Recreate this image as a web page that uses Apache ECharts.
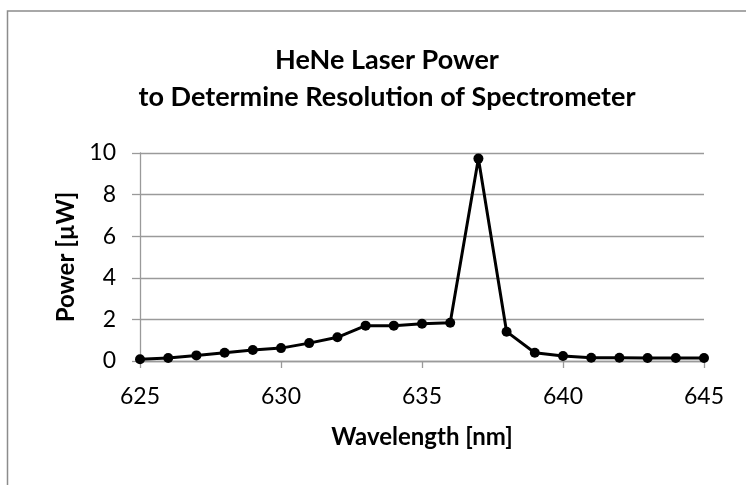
<!DOCTYPE html>
<html lang="en">

<head>
  <meta charset="UTF-8">
  <title>HeNe Laser Power</title>
  <script src="https://cdn.jsdelivr.net/npm/echarts@6/dist/echarts.min.js"></script>
  <style>
    html, body { margin: 0; padding: 0; background: #fff; }
  </style>
</head>

<body>
  <div id="main" style="width: 746px;height:485px;"></div>
  <script>
    // measured points, one per nm
    const wavelength = [625, 626, 627, 628, 629, 630, 631, 632, 633, 634, 635,
      636, 637, 638, 639, 640, 641, 642, 643, 644, 645];
    const power = [0.08, 0.14, 0.27, 0.40, 0.53, 0.62, 0.86, 1.14, 1.70, 1.70, 1.79,
      1.84, 9.73, 1.41, 0.40, 0.24, 0.16, 0.16, 0.14, 0.14, 0.14];

    const titleText = 'HeNe Laser Power\nto Determine Resolution of Spectrometer';
    const xName = 'Wavelength [nm]';
    const yName = 'Power [µW]';

    const font = 'Lato, "Open Sans", sans-serif';
    const gray = '#9a9a9a';

    var myChart = echarts.init(document.getElementById('main'));

    const option = {
      animation: false,
      // outer chart frame (continues past the right/bottom edge)
      graphic: [{
        type: 'rect',
        shape: { x: 7.5, y: 11, width: 800, height: 600 },
        style: { fill: 'none', stroke: '#8c8c8c', lineWidth: 1.5 },
        silent: true
      }],
      title: {
        text: titleText,
        left: 382,
        top: 37,
        textAlign: 'center',
        textStyle: {
          fontFamily: font,
          fontWeight: 'bold',
          fontSize: 27,
          lineHeight: 37,
          color: '#000'
        }
      },
      grid: { left: 140, right: 42, top: 153, bottom: 124 },
      xAxis: {
        type: 'value',
        min: 625,
        max: 645,
        interval: 5,
        name: xName,
        nameLocation: 'middle',
        nameGap: 64,
        nameTextStyle: { fontFamily: font, fontWeight: 'bold', fontSize: 24, color: '#000' },
        axisLine: { show: true, lineStyle: { color: gray, width: 1.3 } },
        axisTick: { show: true, length: 7, lineStyle: { color: gray, width: 1.3 } },
        axisLabel: { fontFamily: font, fontSize: 23, color: '#000', margin: 24 },
        splitLine: { show: false }
      },
      yAxis: {
        type: 'value',
        min: 0,
        max: 10,
        interval: 2,
        name: yName,
        nameLocation: 'middle',
        nameGap: 57,
        nameTextStyle: { fontFamily: font, fontWeight: 'bold', fontSize: 24, color: '#000' },
        axisLine: { show: true, lineStyle: { color: gray, width: 1.3 } },
        axisTick: { show: true, length: 8, lineStyle: { color: gray, width: 1.3 } },
        axisLabel: { fontFamily: font, fontSize: 23, color: '#000', margin: 24 },
        splitLine: { show: true, lineStyle: { color: gray, width: 1.3 } }
      },
      series: [{
        type: 'line',
        data: wavelength.map((w, i) => [w, power[i]]),
        symbol: 'circle',
        symbolSize: 10,
        lineStyle: { color: '#000', width: 3 },
        itemStyle: { color: '#000' }
      }]
    };

    myChart.setOption(option);
  </script>
</body>

</html>
